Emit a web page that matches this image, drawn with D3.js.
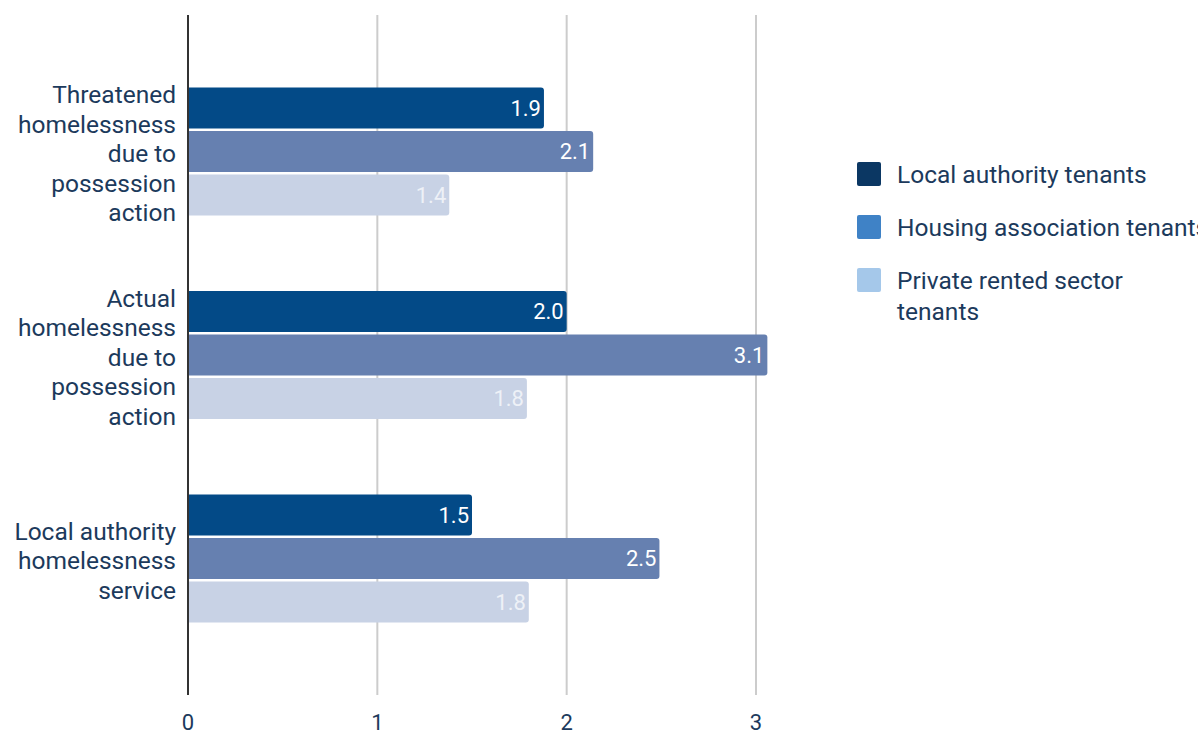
<!DOCTYPE html>
<html><head><meta charset="utf-8">
<script src="https://cdn.jsdelivr.net/npm/d3@7"></script>
<style>body{margin:0;background:#fff;}svg{display:block;font-family:Roboto,sans-serif;}</style>
</head><body>
<script>
const categories = [
  ["Threatened","homelessness","due to","possession","action"],
  ["Actual","homelessness","due to","possession","action"],
  ["Local authority","homelessness","service"]
];
const categoryKeys = ["threatened","actual","service"];
const seriesNames = ["Local authority tenants","Housing association tenants","Private rented sector tenants"];
const localAuthority = [1.88, 2.0, 1.5];
const housingAssociation = [2.14, 3.06, 2.49];
const privateRented = [1.38, 1.79, 1.8];
const xTicks = [0,1,2,3];

const W = 1198, H = 732;
const barColors = ["#034a87","#6680b0","#c8d2e5"];
const legendColors = ["#0b3763","#3f82c6","#a5c8ea"];
const textColor = "#1c3a5c";

const svg = d3.select("body").append("svg").attr("width",W).attr("height",H);

const x = d3.scaleLinear().domain([0,3]).range([188,756]);
const y = d3.scaleBand().domain(categoryKeys).range([15,695]).paddingInner(0.371).paddingOuter(0.356);
const y1 = d3.scaleBand().domain(d3.range(3)).range([0,y.bandwidth()]).paddingInner(0.055);

const series = [localAuthority, housingAssociation, privateRented];

// grid
svg.append("g").selectAll("line").data(xTicks.filter(t=>t>0)).join("line")
  .attr("x1",d=>x(d)).attr("x2",d=>x(d)).attr("y1",15).attr("y2",695)
  .attr("stroke","#cccccc").attr("stroke-width",2);

// bars
const g = svg.append("g");
categoryKeys.forEach((k,i)=>{
  series.forEach((s,j)=>{
    const by = y(k)+y1(j);
    g.append("path")
      .attr("d", (()=>{const x0=x(0), x1=x(s[i]), r=3, h=y1.bandwidth();
        return `M${x0},${by}H${x1-r}Q${x1},${by} ${x1},${by+r}V${by+h-r}Q${x1},${by+h} ${x1-r},${by+h}H${x0}Z`;})())
      .attr("fill",barColors[j]);
    g.append("text").attr("x",x(s[i])-3).attr("y",by+y1.bandwidth()/2)
      .attr("dy","0.36em").attr("text-anchor","end")
      .attr("fill", j===2 ? "#eef1f7" : "#ffffff")
      .style("font-size","22px").text(d3.format(".1f")(s[i]));
  });
});

// axis line at 0
svg.append("line").attr("x1",x(0)).attr("x2",x(0)).attr("y1",15).attr("y2",695)
  .attr("stroke","#333333").attr("stroke-width",2);

// x tick labels
svg.append("g").selectAll("text").data(xTicks).join("text")
  .attr("x",d=>x(d)).attr("y",730).attr("text-anchor","middle")
  .attr("fill",textColor).style("font-size","22px").text(d=>d);

// category labels
const lh = 29.6;
categoryKeys.forEach((k,i)=>{
  const lines = categories[i];
  const cy = y(k)+y.bandwidth()/2;
  const t = svg.append("text").attr("text-anchor","end").attr("fill",textColor).style("font-size","24.5px");
  lines.forEach((ln,li)=>{
    t.append("tspan").attr("x",176).attr("y", cy + 2 + (li-(lines.length-1)/2)*lh).attr("dy","0.36em").text(ln);
  });
});

// legend
const legendRows = [[seriesNames[0]],[seriesNames[1]],["Private rented sector","tenants"]];
const legendY = [174, 227, 280];
legendRows.forEach((rows,i)=>{
  svg.append("rect").attr("x",857).attr("y",legendY[i]-12).attr("width",24).attr("height",24)
    .attr("rx",2).attr("fill",legendColors[i]);
  const t = svg.append("text").attr("fill",textColor).style("font-size","24.5px");
  rows.forEach((r,ri)=>{
    t.append("tspan").attr("x",897).attr("y",legendY[i]+ri*31).attr("dy","0.36em").text(r);
  });
});
</script>
</body></html>
